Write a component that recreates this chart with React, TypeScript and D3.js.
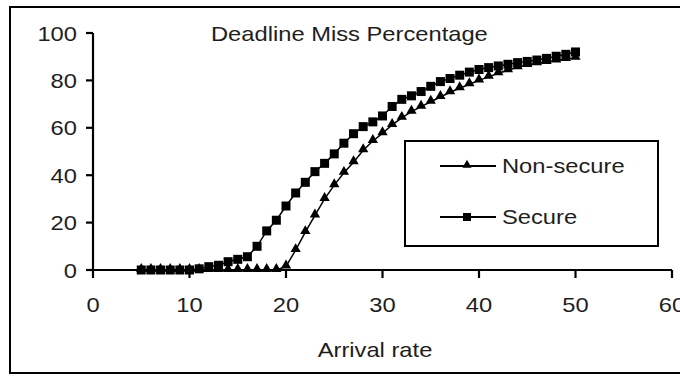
import React from "react";
import * as d3 from "d3";

const arrivalRates = d3.range(5, 51);
const secureValues = [
  0, 0, 0, 0, 0, 0, 0.5, 1.4, 2, 3.5, 4.5, 5.6, 10, 16.5, 21, 27, 32.5, 37, 41.5, 45,
  49, 53.5, 57.5, 60.5, 62.5, 65, 69, 72, 73.5, 75.3, 77.5, 79.5, 80.8, 82.2, 83.5, 84.6,
  85.4, 86.1, 86.8, 87.5, 88, 88.6, 89.3, 90.2, 91, 92,
];
const nonSecureValues = [
  0, 0, 0, 0, 0, 0, 0, 0, 0, 0, 0, 0, 0, 0, 0, 1.5, 8.4, 16, 23, 30,
  35.8, 41, 45.5, 50.5, 54.4, 57.7, 61.2, 64.2, 66.8, 68.9, 71, 73, 75, 76.7, 78.4, 80,
  81.5, 83, 84.3, 85.5, 86.5, 87.2, 87.8, 88.4, 89, 89.5,
];
const xTicks = [0, 10, 20, 30, 40, 50, 60];
const yTicks = [0, 20, 40, 60, 80, 100];
const seriesNames = ["Non-secure", "Secure"];
const title = "Deadline Miss Percentage";
const xTitle = "Arrival rate";

const FONT = "'Liberation Sans', Arial, sans-serif";
const FS = 21;
const SX = 1.13;

function T({ x, y, anchor = "start", children, fs = FS }: any) {
  return (
    <text
      transform={`translate(${x},${y}) scale(${SX},1)`}
      textAnchor={anchor}
      fontFamily={FONT}
      fontSize={fs}
      fill="#1e1e1e"
    >
      {children}
    </text>
  );
}

export default function App() {
  const x = d3.scaleLinear().domain([0, 60]).range([93, 672]);
  const y = d3.scaleLinear().domain([0, 100]).range([270, 33]);
  const line = d3
    .line<[number, number]>()
    .x((d) => x(d[0]))
    .y((d) => y(d[1]));
  const nsData: [number, number][] = arrivalRates.map((r, i) => [r, nonSecureValues[i]]);
  const sData: [number, number][] = arrivalRates.map((r, i) => [r, secureValues[i]]);
  const sq = 9;
  const tri = d3.symbol().type(d3.symbolTriangle).size(46)();
  const triLeg = d3.symbol().type(d3.symbolTriangle).size(36)();

  return (
    <svg
      width={680}
      height={376}
      style={{ position: "absolute", left: 0, top: 0, display: "block", background: "#fff" }}
    >
      <rect x={10} y={7} width={690} height={366} fill="#fff" stroke="#000" strokeWidth={2} />
      <T x={211} y={41}>{title}</T>

      {/* axes */}
      <line x1={x(0)} x2={x(0)} y1={y(100)} y2={y(0)} stroke="#000" strokeWidth={2.2} />
      <line x1={x(0)} x2={x(60)} y1={y(0)} y2={y(0)} stroke="#000" strokeWidth={2.2} />
      {yTicks.map((t) => (
        <g key={"y" + t}>
          <line x1={x(0) - 7} x2={x(0)} y1={y(t)} y2={y(t)} stroke="#000" strokeWidth={2.2} />
          <T x={77} y={y(t) + 7.5} anchor="end">{t}</T>
        </g>
      ))}
      {xTicks.map((t) => (
        <g key={"x" + t}>
          <line x1={x(t)} x2={x(t)} y1={y(0)} y2={y(0) + 8} stroke="#000" strokeWidth={2.2} />
          <T x={x(t)} y={312} anchor="middle">{t}</T>
        </g>
      ))}
      <T x={375} y={357} anchor="middle">{xTitle}</T>

      {/* series */}
      <path d={line(nsData) || ""} fill="none" stroke="#000" strokeWidth={1.5} />
      <path d={line(sData) || ""} fill="none" stroke="#000" strokeWidth={1.5} />
      {nsData.map((d, i) => (
        <path key={"t" + i} d={tri || ""} transform={`translate(${x(d[0])},${y(d[1]) - 1})`} fill="#000" />
      ))}
      {sData.map((d, i) => (
        <rect key={"s" + i} x={x(d[0]) - sq / 2} y={y(d[1]) - sq / 2} width={sq} height={sq} fill="#000" />
      ))}

      {/* legend */}
      <rect x={405} y={141} width={253} height={105} fill="#fff" stroke="#000" strokeWidth={2} />
      <line x1={440} x2={496} y1={166} y2={166} stroke="#000" strokeWidth={2} />
      <path d={triLeg || ""} transform="translate(467,165)" fill="#000" />
      <T x={502} y={173}>{seriesNames[0]}</T>
      <line x1={440} x2={496} y1={217} y2={217} stroke="#000" strokeWidth={2} />
      <rect x={467 - 4} y={217 - 4} width={8} height={8} fill="#000" />
      <T x={502} y={224}>{seriesNames[1]}</T>
    </svg>
  );
}
